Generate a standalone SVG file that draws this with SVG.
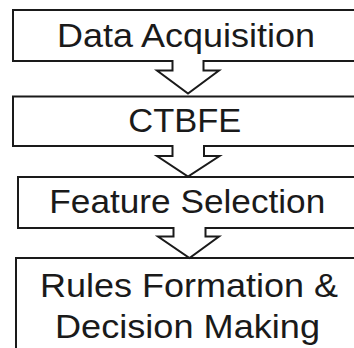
<svg xmlns="http://www.w3.org/2000/svg" width="354" height="348" viewBox="0 0 354 348">
<style>
.box{fill:#fff;stroke:#1a1a1a;stroke-width:2}
.lbl{font-family:"Liberation Sans",Arial,sans-serif;font-size:33px;fill:#1a1a1a}
.arr{fill:#fff;stroke:#1a1a1a;stroke-width:2;stroke-linejoin:miter}
</style>
<rect width="354" height="348" fill="#fff"/>
<g id="node-data-acquisition">
<rect class="box" x="13" y="10" width="360" height="51"/>
<text class="lbl" x="57" y="47" textLength="258" lengthAdjust="spacingAndGlyphs">Data Acquisition</text>
</g>
<g id="node-ctbfe">
<rect class="box" x="13" y="96.5" width="360" height="49.5"/>
<text class="lbl" x="128.3" y="131.7" textLength="113" lengthAdjust="spacingAndGlyphs">CTBFE</text>
</g>
<g id="node-feature-selection">
<rect class="box" x="18" y="177" width="360" height="51"/>
<text class="lbl" x="49.3" y="213" textLength="276" lengthAdjust="spacingAndGlyphs">Feature Selection</text>
</g>
<g id="node-rules">
<rect class="box" x="16" y="258" width="360" height="110"/>
<text class="lbl" x="40" y="297" textLength="298" lengthAdjust="spacingAndGlyphs">Rules Formation &amp;</text>
<text class="lbl" x="55" y="338" textLength="265" lengthAdjust="spacingAndGlyphs">Decision Making</text>
</g>
<g id="connectors">
<path class="arr" d="M172.5,59.9 V70.5 H157 L188,93.5 L219,70.5 H203.5 V59.9"/>
<path class="arr" d="M172.5,144.9 V156 H157 L188,176.5 L219.5,156 H204 V144.9"/>
<path class="arr" d="M173.5,226.9 V236.5 H158 L189.5,258 L219,236.5 H205.5 V226.9"/>
</g>
</svg>
